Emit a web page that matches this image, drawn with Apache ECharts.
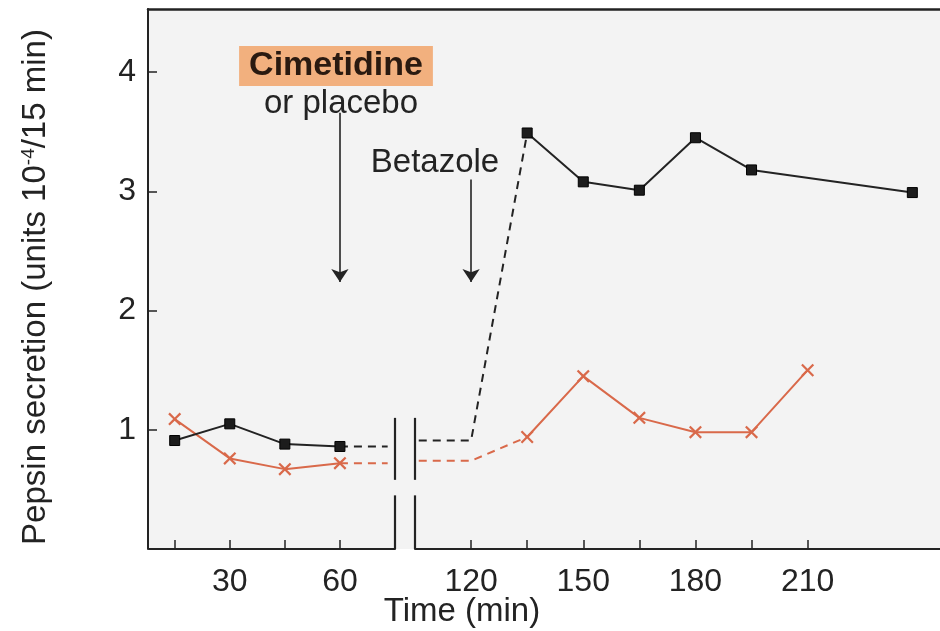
<!DOCTYPE html>
<html>
<head>
<meta charset="utf-8">
<script src="https://cdn.jsdelivr.net/npm/echarts@6/dist/echarts.min.js"></script>
<style>
  html, body { margin: 0; padding: 0; background: #ffffff; }
  #chart { width: 940px; height: 631px; }
</style>
</head>
<body>
<div id="chart"></div>
<script>
// ---------- data ----------
// Control (placebo) series – black squares
const ctrlTimesLeft   = [15, 30, 45, 60];
const ctrlValuesLeft  = [0.91, 1.05, 0.88, 0.86];
const ctrlTimesRight  = [135, 150, 165, 180, 195, 238];
const ctrlValuesRight = [3.49, 3.08, 3.01, 3.45, 3.18, 2.99];
// Dashed bridge for control (before/after the axis break, up to betazole response)
const ctrlBridgeTimesLeft   = [60, 73];
const ctrlBridgeValuesLeft  = [0.86, 0.86];
const ctrlBridgeTimesRight  = [106, 120, 135];
const ctrlBridgeValuesRight = [0.91, 0.91, 3.49];

// Cimetidine series – orange crosses
const cimTimesLeft   = [15, 30, 45, 60];
const cimValuesLeft  = [1.09, 0.76, 0.67, 0.72];
const cimTimesRight  = [135, 150, 165, 180, 195, 210];
const cimValuesRight = [0.94, 1.45, 1.10, 0.98, 0.98, 1.50];
const cimBridgeTimesLeft   = [60, 73];
const cimBridgeValuesLeft  = [0.72, 0.72];
const cimBridgeTimesRight  = [106, 120, 135];
const cimBridgeValuesRight = [0.74, 0.74, 0.94];

// Axes
const xTicksLeft   = [15, 30, 45, 60];
const xLabelsLeft  = [30, 60];
const xTicksRight  = [120, 135, 150, 165, 180, 195, 210];
const xLabelsRight = [120, 150, 180, 210];
const yTicks = [1, 2, 3, 4];
const breakStart = 75;   // end of the left axis segment (min)
const breakEnd = 105;    // start of the right axis segment (min)
const breakMarkLow  = [0, 0.45];
const breakMarkHigh = [0.58, 1.10];

// Annotation arrows (time, from value, to value)
const cimArrow = [60, 3.66, 2.24];
const betArrow = [120, 3.10, 2.24];

// ---------- chart ----------
const FONT = '"Liberation Sans", Arial, Helvetica, sans-serif';
const INK = '#232323';
const ORANGE = '#d9694a';
const Y_MAX = 4.53;
const zip = (t, v) => t.map((x, i) => [x, v[i]]);

const crossPath = 'path://M0,1.2L1.2,0L5,3.8L8.8,0L10,1.2L6.2,5L10,8.8L8.8,10L5,6.2L1.2,10L0,8.8L3.8,5Z';

const xCommon = (min, max, ticks, labels) => ({
  type: 'value', min: min, max: max,
  axisLine: { show: true, onZero: false, lineStyle: { color: INK, width: 2 } },
  axisTick: { show: true, inside: true, length: 9, customValues: ticks, lineStyle: { color: INK, width: 1.5 } },
  axisLabel: { show: true, customValues: labels, fontSize: 32, color: INK, fontFamily: FONT, margin: 17 },
  splitLine: { show: false }
});

const hiddenY = (g) => ({ type: 'value', gridIndex: g, min: 0, max: Y_MAX, show: false, splitLine: { show: false } });

const breakLines = (x) => [
  [{ coord: [x, breakMarkLow[0]] }, { coord: [x, breakMarkLow[1]] }],
  [{ coord: [x, breakMarkHigh[0]] }, { coord: [x, breakMarkHigh[1]] }]
];

const arrowLine = (a) => [[{ coord: [a[0], a[1]] }, { coord: [a[0], a[2]] }]];

const option = {
  animation: false,
  backgroundColor: '#ffffff',
  grid: [
    { left: 148, right: 0, top: 9, bottom: 82, show: true, backgroundColor: '#f3f3f3', borderWidth: 0 },
    { left: 149, width: 246, top: 9, bottom: 82 },
    { left: 415, right: 0, top: 9, bottom: 82 }
  ],
  xAxis: [
    { type: 'value', gridIndex: 0, position: 'top', min: 0, max: 1,
      axisLine: { show: true, onZero: false, lineStyle: { color: INK, width: 2.5 } },
      axisTick: { show: false }, axisLabel: { show: false }, splitLine: { show: false } },
    Object.assign({ gridIndex: 1 }, xCommon(8, breakStart, xTicksLeft, xLabelsLeft)),
    Object.assign({ gridIndex: 2 }, xCommon(breakEnd, 245.4, xTicksRight, xLabelsRight))
  ],
  yAxis: [
    { type: 'value', gridIndex: 0, min: 0, max: Y_MAX,
      axisLine: { show: true, onZero: false, lineStyle: { color: INK, width: 2 } },
      axisTick: { show: true, inside: true, length: 9, customValues: yTicks, lineStyle: { color: INK, width: 1.5 } },
      axisLabel: { show: true, customValues: yTicks, fontSize: 32, color: INK, fontFamily: FONT, margin: 12 },
      splitLine: { show: false },
      name: 'Pepsin secretion (units 10{sup|-4}/15 min)',
      nameLocation: 'middle', nameGap: 96, nameRotate: 90,
      nameTextStyle: { fontSize: 33, color: INK, fontFamily: FONT, padding: [0, 16, 0, 0],
        rich: { sup: { fontSize: 19, fontFamily: FONT, color: INK, verticalAlign: 'top', padding: [0, 0, 12, 0] } } }
    },
    hiddenY(1),
    hiddenY(2)
  ],
  series: [
    // control, left segment
    { type: 'line', xAxisIndex: 1, yAxisIndex: 1, data: zip(ctrlTimesLeft, ctrlValuesLeft),
      symbol: 'rect', symbolSize: 10, z: 5,
      itemStyle: { color: '#1c1c1c', borderColor: '#000', borderWidth: 1 },
      lineStyle: { color: INK, width: 2 },
      markLine: { silent: true, symbol: ['none', 'arrow'], symbolSize: 13, label: { show: false },
        lineStyle: { color: INK, width: 1.6, type: 'solid' }, data: arrowLine(cimArrow) } },
    // control, dashed bridge left
    { type: 'line', xAxisIndex: 1, yAxisIndex: 1, data: zip(ctrlBridgeTimesLeft, ctrlBridgeValuesLeft),
      showSymbol: false, lineStyle: { color: INK, width: 2, type: [8, 6] },
      markLine: { silent: true, symbol: 'none', label: { show: false },
        lineStyle: { color: INK, width: 2.2, type: 'solid' }, data: breakLines(breakStart) } },
    // control, dashed bridge right
    { type: 'line', xAxisIndex: 2, yAxisIndex: 2, data: zip(ctrlBridgeTimesRight, ctrlBridgeValuesRight),
      showSymbol: false, lineStyle: { color: INK, width: 2, type: [8, 6] },
      markLine: { silent: true, symbol: 'none', label: { show: false },
        lineStyle: { color: INK, width: 2.2, type: 'solid' }, data: breakLines(breakEnd) } },
    // control, right segment
    { type: 'line', xAxisIndex: 2, yAxisIndex: 2, data: zip(ctrlTimesRight, ctrlValuesRight),
      symbol: 'rect', symbolSize: 10, z: 5,
      itemStyle: { color: '#1c1c1c', borderColor: '#000', borderWidth: 1 },
      lineStyle: { color: INK, width: 2 },
      markLine: { silent: true, symbol: ['none', 'arrow'], symbolSize: 13, label: { show: false },
        lineStyle: { color: INK, width: 1.6, type: 'solid' }, data: arrowLine(betArrow) } },
    // cimetidine, left segment
    { type: 'line', xAxisIndex: 1, yAxisIndex: 1, data: zip(cimTimesLeft, cimValuesLeft),
      symbol: crossPath, symbolSize: 13, z: 4,
      itemStyle: { color: ORANGE },
      lineStyle: { color: ORANGE, width: 2 } },
    { type: 'line', xAxisIndex: 1, yAxisIndex: 1, data: zip(cimBridgeTimesLeft, cimBridgeValuesLeft),
      showSymbol: false, lineStyle: { color: ORANGE, width: 2, type: [8, 6] } },
    { type: 'line', xAxisIndex: 2, yAxisIndex: 2, data: zip(cimBridgeTimesRight, cimBridgeValuesRight),
      showSymbol: false, lineStyle: { color: ORANGE, width: 2, type: [8, 6] } },
    { type: 'line', xAxisIndex: 2, yAxisIndex: 2, data: zip(cimTimesRight, cimValuesRight),
      symbol: crossPath, symbolSize: 13, z: 4,
      itemStyle: { color: ORANGE },
      lineStyle: { color: ORANGE, width: 2 } }
  ],
  graphic: [
    { type: 'text', x: 336, y: 66, z: 100,
      style: { text: 'Cimetidine', font: 'bold 34px ' + FONT, fill: '#2a1a10', align: 'center', verticalAlign: 'middle',
        backgroundColor: '#f2b07e', padding: [4, 10, 2, 10] } },
    { type: 'text', x: 341, y: 104, z: 100,
      style: { text: 'or placebo', font: '33px ' + FONT, fill: INK, align: 'center', verticalAlign: 'middle' } },
    { type: 'text', x: 435, y: 163, z: 100,
      style: { text: 'Betazole', font: '33px ' + FONT, fill: INK, align: 'center', verticalAlign: 'middle' } },
    { type: 'text', x: 462, y: 612, z: 100,
      style: { text: 'Time (min)', font: '33px ' + FONT, fill: INK, align: 'center', verticalAlign: 'middle' } }
  ]
};

const chart = echarts.init(document.getElementById('chart'), null, { renderer: 'canvas' });
chart.setOption(option);
</script>
</body>
</html>
